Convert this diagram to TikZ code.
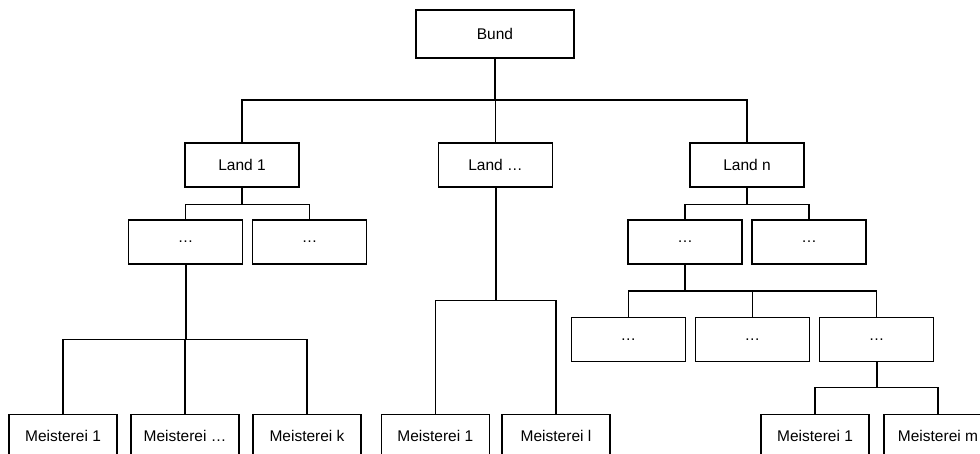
\documentclass[tikz,border=0pt]{standalone}
\usepackage{fontspec}
\setmainfont{Liberation Sans}
\begin{document}
\begin{tikzpicture}[x=1pt,y=-1pt,
  line width=1.4pt,
  box/.style={draw, line width=1.4pt, inner sep=0pt, minimum width=114pt, minimum height=44pt,
    font=\fontsize{15.5}{18}\selectfont},
  topbox/.style={box, minimum width=158pt, minimum height=48pt},
  leafbox/.style={box, minimum width=108pt},
  trunk/.style={line width=2pt}]
\useasboundingbox (0,0) rectangle (980,454);
\clip (0,0) rectangle (980,454);

% top level
\node[topbox] (bund) at (495,34) {Bund};

% states
\node[box] (land1) at (242,165) {Land 1};
\node[box] (landm) at (495.5,165) {Land \dots};
\node[box] (landn) at (747,165) {Land n};

% second level below Land 1 and Land n
\node[box] (a1) at (185.5,242) {\dots};
\node[box] (a2) at (309.5,242) {\dots};
\node[box] (b1) at (685,242) {\dots};
\node[box] (b2) at (809,242) {\dots};

% third level below Land n
\node[box] (c1) at (628.3,339.5) {\dots};
\node[box] (c2) at (752.3,339.5) {\dots};
\node[box] (c3) at (876.5,339.5) {\dots};

% leaves
\node[leafbox] (m11) at (63,436.3) {Meisterei 1};
\node[leafbox] (m12) at (185,436.3) {Meisterei \dots};
\node[leafbox] (m1k) at (307,436.3) {Meisterei k};
\node[leafbox] (m21) at (435.3,436.3) {Meisterei 1};
\node[leafbox] (m2l) at (556,436.3) {Meisterei l};
\node[leafbox] (m31) at (815,436.3) {Meisterei 1};
\node[leafbox] (m3m) at (938,436.3) {Meisterei m};

% bus levels
\coordinate (y0) at (0,100);
\coordinate (y1) at (0,204.5);
\coordinate (y2) at (0,339.5);
\coordinate (y3) at (0,300.7);
\coordinate (y4) at (0,291);
\coordinate (y5) at (0,387.7);

% Bund -> states
\draw[trunk] (bund.south) -- (bund.south |- y0);
\draw (land1.north) |- (landn.north |- y0) -- (landn.north);
\draw (landm.north) -- (landm.north |- y0);

% Land 1 -> second level
\draw (land1.south) -- (land1.south |- y1);
\draw (a1.north) |- (a2.north |- y1) -- (a2.north);

% first "..." -> Meistereien 1..k
\draw[trunk] (a1.south) -- (a1.south |- y2);
\draw (m11.north) |- (m1k.north |- y2) -- (m1k.north);
\draw (m12.north) -- (m12.north |- y2);

% Land ... -> Meistereien 1..l
\draw[trunk] (landm.south) -- (landm.south |- y3);
\draw (m21.north) |- (m2l.north |- y3) -- (m2l.north);

% Land n -> second level
\draw (landn.south) -- (landn.south |- y1);
\draw (b1.north) |- (b2.north |- y1) -- (b2.north);

% first "..." -> third level
\draw[trunk] (b1.south) -- (b1.south |- y4);
\draw (c1.north) |- (c3.north |- y4) -- (c3.north);
\draw (c2.north) -- (c2.north |- y4);

% last "..." -> Meistereien 1..m
\draw[trunk] (c3.south) -- (c3.south |- y5);
\draw (m31.north) |- (m3m.north |- y5) -- (m3m.north);
\end{tikzpicture}
\end{document}
